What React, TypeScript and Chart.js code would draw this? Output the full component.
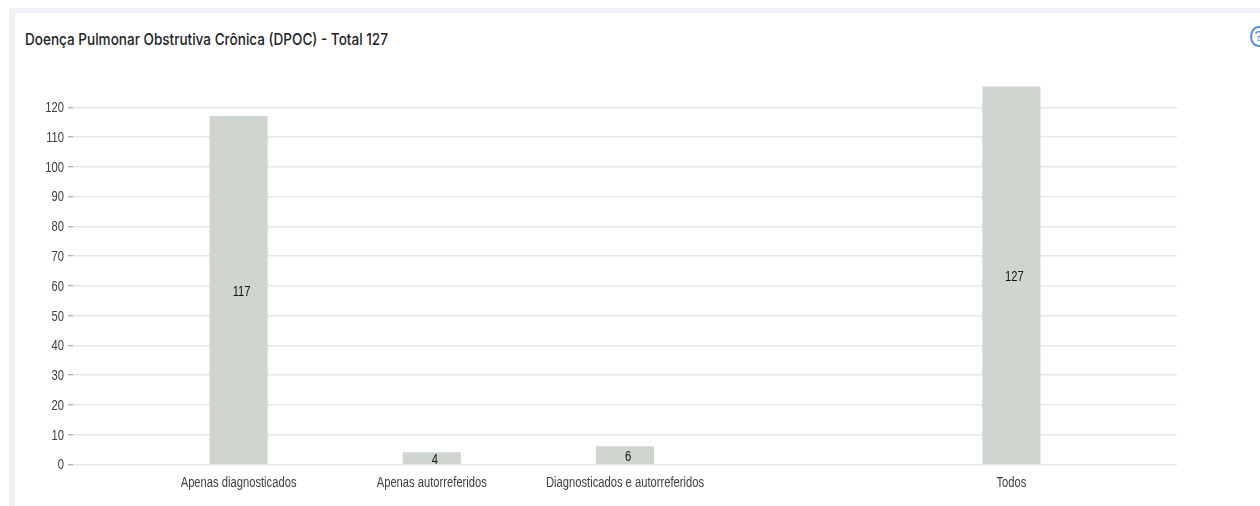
import React, { useEffect, useRef } from "react";
import { Chart, registerables } from "chart.js";

Chart.register(...registerables);

const categories = ["Apenas diagnosticados", "Apenas autorreferidos", "Diagnosticados e autorreferidos", "", "Todos"];
const slots = [0, 1, 2, 4];
const values = [117, 4, 6, 127];
const yTicks = [0, 10, 20, 30, 40, 50, 60, 70, 80, 90, 100, 110, 120];
const title = "Doença Pulmonar Obstrutiva Crônica (DPOC) - Total 127";

const labelFont = "14px 'Liberation Sans', Arial, sans-serif";
const squeeze = 0.8;

// Writes a horizontally condensed label centred vertically on (x, y).
function condensedText(ctx: CanvasRenderingContext2D, text: string, x: number, y: number, align: CanvasTextAlign) {
  ctx.save();
  ctx.translate(x, y + 1);
  ctx.scale(squeeze, 1);
  ctx.textAlign = align;
  ctx.textBaseline = "middle";
  ctx.fillText(text, 0, 0);
  ctx.restore();
}

// Axis labels and the value printed at the middle of each bar.
const condensedLabels = {
  id: "condensedLabels",
  afterDatasetsDraw(chart: Chart) {
    const { ctx, scales } = chart;
    ctx.save();
    ctx.font = labelFont;
    ctx.fillStyle = "#404040";
    scales.x.getTicks().forEach((tick: any) => {
      condensedText(ctx, String(tick.label), scales.x.getPixelForValue(tick.value), 482.5, "center");
    });
    scales.y.getTicks().forEach((tick: any) => {
      condensedText(ctx, String(tick.label), 64, scales.y.getPixelForValue(tick.value), "right");
    });
    ctx.fillStyle = "#111";
    chart.getDatasetMeta(0).data.forEach((bar: any, i: number) => {
      const { x, y, base } = bar.getProps(["x", "y", "base"], true);
      condensedText(ctx, String(values[i]), x + 3, (y + base) / 2 + 1, "center");
    });
    ctx.restore();
  },
};

export default function App() {
  const canvasRef = useRef<HTMLCanvasElement>(null);

  useEffect(() => {
    document.body.style.overflow = "hidden";
    const chart = new Chart(canvasRef.current!, {
      type: "bar",
      data: {
        datasets: [
          {
            data: slots.map((s, i) => ({ x: s, y: values[i] })),
            backgroundColor: "#cfd5cf",
            barThickness: 57.5,
          },
        ],
      },
      options: {
        animation: false,
        responsive: false,
        layout: { padding: { top: 86.5, right: 83, left: 0, bottom: 0 } },
        plugins: { legend: { display: false }, tooltip: { enabled: false } },
        scales: {
          x: {
            type: "linear",
            offset: false,
            min: -0.857,
            max: 4.857,
            grid: { display: false, offset: false },
            border: { display: false },
            afterBuildTicks: (axis: any) => {
              axis.ticks = slots.map((value) => ({ value }));
            },
            afterFit: (axis: any) => {
              axis.height = 41.5;
            },
            ticks: {
              display: false,
              autoSkip: false,
              maxRotation: 0,
              callback: (v: any) => categories[Number(v)],
            },
          },
          y: {
            min: 0,
            max: 127,
            grid: { color: "#e7e7e7", lineWidth: 1.5, tickColor: "#999", tickLength: 5, tickWidth: 1 },
            border: { display: false },
            afterBuildTicks: (axis: any) => {
              axis.ticks = yTicks.map((value) => ({ value }));
            },
            afterFit: (axis: any) => {
              axis.width = 73;
            },
            ticks: { display: false },
          },
        },
      },
      plugins: [condensedLabels],
    } as any);
    return () => chart.destroy();
  }, []);

  return (
    <div style={{ position: "absolute", inset: 0, width: 1260, height: 506, overflow: "hidden", background: "#fff" }}>
      <div style={{ position: "absolute", left: 9, top: 8, right: 0, bottom: 0, background: "#f1f1f8" }} />
      <div style={{ position: "absolute", left: 15, top: 13, right: 0, bottom: 0, background: "#fff", borderTopLeftRadius: 4 }} />
      <div
        style={{
          position: "absolute",
          left: 25,
          top: 28,
          fontFamily: "Inter, sans-serif",
          fontWeight: 500,
          fontSize: 16,
          lineHeight: "22px",
          color: "#222",
          whiteSpace: "nowrap",
          transform: "scaleX(0.847)",
          transformOrigin: "left center",
        }}
      >
        {title}
      </div>
      <div
        style={{
          position: "absolute",
          left: 1250,
          top: 26,
          width: 13,
          height: 17,
          border: "2px solid #4a8cf0",
          borderRadius: "50%",
          color: "#4a8cf0",
          fontFamily: "'Liberation Sans', sans-serif",
          fontSize: 14,
          lineHeight: "17px",
          textAlign: "center",
        }}
      >
        ?
      </div>
      <canvas ref={canvasRef} width={1260} height={506} style={{ position: "absolute", left: 0, top: 0 }} />
    </div>
  );
}
